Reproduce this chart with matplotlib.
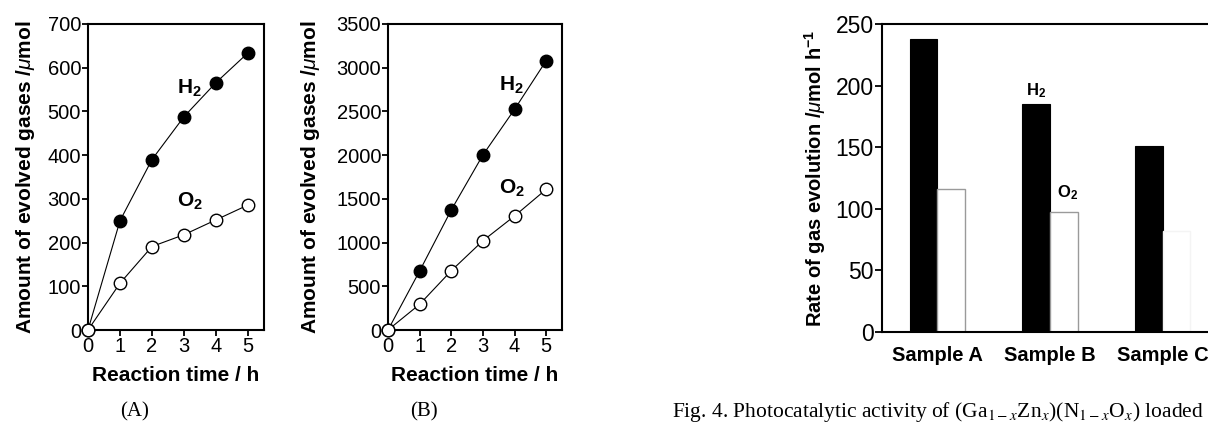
import numpy as np
import matplotlib
matplotlib.use("Agg")
import matplotlib.pyplot as plt

plt.rcParams["font.family"] = ["Liberation Sans", "DejaVu Sans"]
plt.rcParams["mathtext.fontset"] = "custom"
plt.rcParams["mathtext.rm"] = "Liberation Sans"
plt.rcParams["mathtext.it"] = "Liberation Sans:italic"
plt.rcParams["mathtext.bf"] = "Liberation Sans:bold"

# panel A
time_a = [0, 1, 2, 3, 4, 5]
h2_a = [0, 250, 390, 488, 566, 634]
o2_a = [0, 107, 191, 218, 252, 286]

# panel B
time_b = [0, 1, 2, 3, 4, 5]
h2_b = [0, 675, 1373, 2002, 2524, 3080]
o2_b = [0, 294, 678, 1021, 1304, 1609]

# panel C
samples = ["Sample A", "Sample B", "Sample C"]
h2_rate = [238, 185, 151]
o2_rate = [116, 97, 82]

W, H = 1208, 422
fig = plt.figure(figsize=(W / 100, H / 100), dpi=100)


def px_axes(left, right, top, bottom):
    return fig.add_axes([left / W, 1 - bottom / H, (right - left) / W, (bottom - top) / H])


def style(ax):
    for s in ax.spines.values():
        s.set_linewidth(1.5)
    ax.tick_params(direction="out", length=4, width=1.3, labelsize=14.5, pad=1)


def line_panel(ax, t, h2, o2, ymax, ystep, label_x):
    ax.plot(t, h2, color="black", lw=0.8, marker="o", ms=9, mfc="black",
            mec="black", clip_on=False, zorder=3)
    ax.plot(t, o2, color="black", lw=0.8, marker="o", ms=9, mfc="white",
            mec="black", mew=1.0, clip_on=False, zorder=3)
    ax.set_xlim(0, 5.5)
    ax.set_ylim(0, ymax)
    ax.set_xticks(range(6))
    ax.set_yticks(np.arange(0, ymax + 1, ystep))
    style(ax)
    ax.set_xlabel("Reaction time / h", fontsize=15, fontweight="bold", labelpad=7)
    ax.set_ylabel(r"Amount of evolved gases /$\mu$mol", fontsize=15, fontweight="bold")
    ax.yaxis.set_label_coords(label_x, 0.5)


ax_a = px_axes(88, 264, 24, 330)
line_panel(ax_a, time_a, h2_a, o2_a, 700, 100, -0.29)
ax_a.text(2.79, 540, r"$\mathbf{H_2}$", fontsize=15)
ax_a.text(2.79, 281, r"$\mathbf{O_2}$", fontsize=15)

ax_b = px_axes(388, 562, 24, 330)
line_panel(ax_b, time_b, h2_b, o2_b, 3500, 500, -0.38)
ax_b.text(3.52, 2734, r"$\mathbf{H_2}$", fontsize=15)
ax_b.text(3.52, 1556, r"$\mathbf{O_2}$", fontsize=15)

# panel C, cut off at the right edge
ax_c = px_axes(882, 1219, 24, 332)
x = np.arange(len(samples))
w = 0.245
ax_c.bar(x - w / 2, h2_rate, w, color="black", edgecolor="black", lw=0.8)
ax_c.bar(x[:2] + w / 2, o2_rate[:2], w, color="white", edgecolor="#9a9a9a", lw=1.0)
ax_c.bar(x[2:] + w / 2, o2_rate[2:], w, color="white", edgecolor="#f4f4f4", lw=1.0)
ax_c.set_xlim(-0.49, 2.5)
ax_c.set_ylim(0, 250)
ax_c.set_yticks(range(0, 251, 50))
ax_c.set_xticks(x)
ax_c.set_xticklabels(samples, fontsize=13.5, fontweight="bold")
style(ax_c)
ax_c.spines["right"].set_visible(False)
ax_c.tick_params(axis="y", labelsize=16.5, length=5)
ax_c.tick_params(axis="x", length=0, pad=10)
ax_c.set_ylabel(r"Rate of gas evolution /$\mu$mol h$^{\mathbf{-1}}$", fontsize=14.5,
                fontweight="bold")
ax_c.yaxis.set_label_coords(-0.16, 0.5)
ax_c.text(x[1] - w / 2, 192, r"$\mathbf{H_2}$", fontsize=12, ha="center")
ax_c.text(x[1] + w / 2 + 0.03, 109, r"$\mathbf{O_2}$", fontsize=12, ha="center")

# captions
fig.text(135 / W, 1 - 412 / H, "(A)", fontsize=15, family="Liberation Serif",
         ha="center", va="center")
fig.text(424 / W, 1 - 412 / H, "(B)", fontsize=15, family="Liberation Serif",
         ha="center", va="center")
fig.text(672 / W, 1 - 412 / H,
         r"Fig. 4. Photocatalytic activity of (Ga$_{1-x}$Zn$_x$)(N$_{1-x}$O$_x$) loaded",
         fontsize=15.5, family="Liberation Serif", math_fontfamily="stix",
         ha="left", va="center")

fig.savefig("out.png", dpi=100)
